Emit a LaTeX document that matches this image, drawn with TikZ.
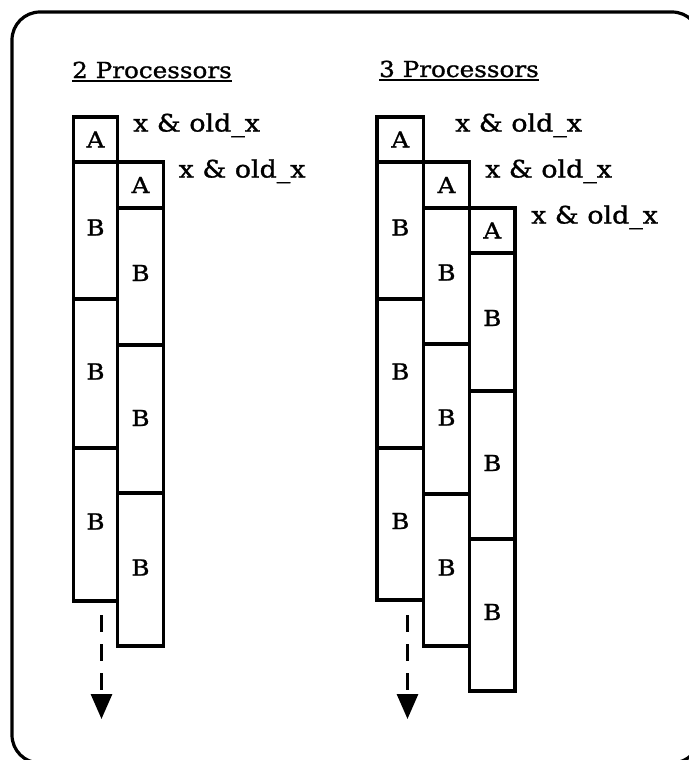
\documentclass[tikz,border=0pt]{standalone}
\usepackage{fontspec}
\setmainfont[FakeStretch=1.12,FakeBold=1.2]{DejaVu Serif}
\usetikzlibrary{arrows.meta}
\begin{document}
\begin{tikzpicture}[x=1pt,y=-1pt,
  txt/.style={font=\fontsize{22}{26}\selectfont, inner sep=0pt},
  cell/.style={draw, line width=3.2pt, inner sep=0pt, outer sep=0pt, anchor=north west, txt},
  lbl/.style={font=\fontsize{24}{28}\selectfont, inner sep=0pt, anchor=base west},
  ttl/.style={txt, anchor=base west},
  uline/.style={line width=1.8pt},
  flow/.style={line width=3pt, dash pattern=on 17pt off 12pt, -{Triangle[length=25pt,width=21pt]}},
  frame/.style={line width=3.2pt, rounded corners=28pt}]
\useasboundingbox (0,0) rectangle (688,760);
\draw[frame] (12,12) rectangle (700,763);

% titles
\node[ttl] (t2) at (72,78) {2 Processors};
\draw[uline] ([yshift=-3pt]t2.base west) -- ([yshift=-3pt]t2.base east);
\node[ttl] (t3) at (379,77) {3 Processors};
\draw[uline] ([yshift=-3pt]t3.base west) -- ([yshift=-3pt]t3.base east);

% 2 processors, column 1
\node[cell, minimum width=44pt, minimum height=45pt] (p2a1) at (73.5,117) {A};
\node[cell, minimum width=44pt, minimum height=137pt] (p2b11) at (73.5,162) {\raisebox{6pt}{B}};
\node[cell, minimum width=44pt, minimum height=149pt] (p2b12) at (73.5,299) {\raisebox{4pt}{B}};
\node[cell, minimum width=44pt, minimum height=153pt] (p2b13) at (73.5,448) {\raisebox{6pt}{B}};
% 2 processors, column 2
\node[cell, minimum width=46pt, minimum height=46pt] (p2a2) at (117.5,162) {A};
\node[cell, minimum width=46pt, minimum height=137pt] (p2b21) at (117.5,208) {\raisebox{7pt}{B}};
\node[cell, minimum width=46pt, minimum height=148pt] (p2b22) at (117.5,345) {\raisebox{2pt}{B}};
\node[cell, minimum width=46pt, minimum height=153pt] (p2b23) at (117.5,493) {\raisebox{4pt}{B}};

\node[lbl] (p2x1) at (133,131.5) {x \& old\_x};
\node[lbl] (p2x2) at (178.5,177.5) {x \& old\_x};

% 3 processors, column 1
\node[cell, minimum width=46.5pt, minimum height=45pt] (p3a1) at (377,117) {A};
\node[cell, minimum width=46.5pt, minimum height=137pt] (p3b11) at (377,162) {\raisebox{6pt}{B}};
\node[cell, minimum width=46.5pt, minimum height=149pt] (p3b12) at (377,299) {\raisebox{4pt}{B}};
\node[cell, minimum width=46.5pt, minimum height=152pt] (p3b13) at (377,448) {\raisebox{6pt}{B}};
% column 2
\node[cell, minimum width=46pt, minimum height=46pt] (p3a2) at (423.5,162) {A};
\node[cell, minimum width=46pt, minimum height=136pt] (p3b21) at (423.5,208) {\raisebox{7pt}{B}};
\node[cell, minimum width=46pt, minimum height=150pt] (p3b22) at (423.5,344) {\raisebox{3pt}{B}};
\node[cell, minimum width=46pt, minimum height=152pt] (p3b23) at (423.5,494) {\raisebox{5pt}{B}};
% column 3
\node[cell, minimum width=45.5pt, minimum height=45pt] (p3a3) at (469.5,208) {A};
\node[cell, minimum width=45.5pt, minimum height=138pt] (p3b31) at (469.5,253) {\raisebox{8pt}{B}};
\node[cell, minimum width=45.5pt, minimum height=148pt] (p3b32) at (469.5,391) {\raisebox{4pt}{B}};
\node[cell, minimum width=45.5pt, minimum height=152pt] (p3b33) at (469.5,539) {\raisebox{6pt}{B}};

\node[lbl] (p3x1) at (455,131.5) {x \& old\_x};
\node[lbl] (p3x2) at (485,177.5) {x \& old\_x};
\node[lbl] (p3x3) at (531,223.5) {x \& old\_x};

% time arrows
\coordinate (s2) at (101.5,615);
\coordinate (e2) at (101.5,719);
\draw[flow] (s2) -- (e2);
\coordinate (s3) at (407.5,615);
\coordinate (e3) at (407.5,719);
\draw[flow] (s3) -- (e3);
\end{tikzpicture}
\end{document}
